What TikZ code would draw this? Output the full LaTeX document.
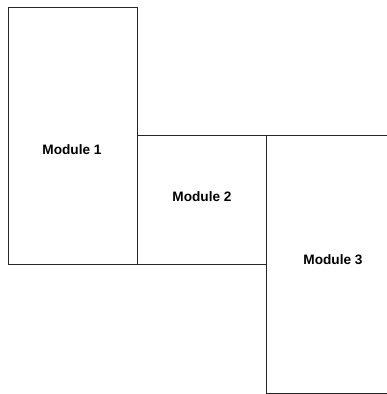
\documentclass[tikz,border=0pt]{standalone}
\usepackage{fontspec}
\setmainfont{Liberation Sans}
\begin{document}
\begin{tikzpicture}[x=1bp,y=-1bp,
  modbox/.style={draw=black!85,line width=0.9bp,inner sep=0pt,outer sep=0pt,anchor=north west},
  modlabel/.style={font=\fontsize{13.7}{16}\selectfont\bfseries,inner sep=0pt}]
\useasboundingbox (0,0) rectangle (387,394);
\clip (0,0) rectangle (387,394);
\node[modbox,minimum width=129.5bp,minimum height=257bp] (m1) at (8,7) {};
\node[modbox,minimum width=128.5bp,minimum height=128.5bp] (m2) at (137.5,135.5) {};
\node[modbox,minimum width=140bp,minimum height=258bp] (m3) at (266,135) {};
\node[modlabel] (t1) at (72,150) {Module 1};
\node[modlabel] (t2) at (202,197) {Module 2};
\node[modlabel] (t3) at (333,260) {Module 3};
\end{tikzpicture}
\end{document}
